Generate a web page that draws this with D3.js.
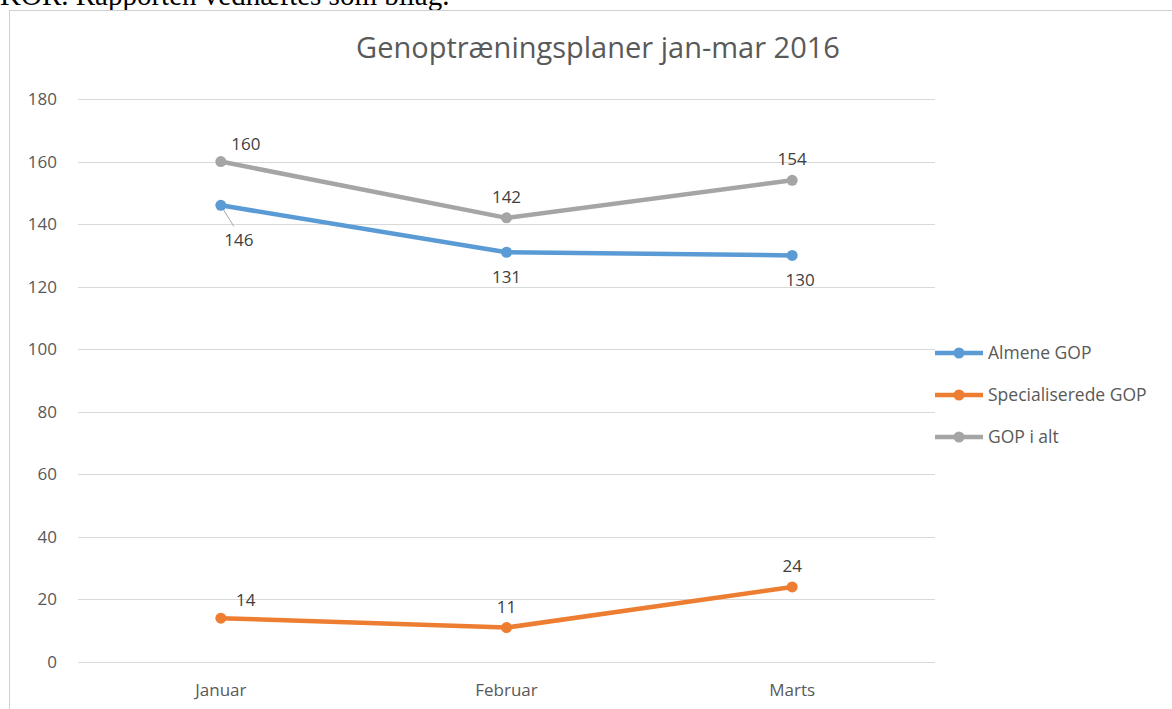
<!DOCTYPE html>
<html>
<head>
<meta charset="utf-8">
<script src="https://cdn.jsdelivr.net/npm/d3@7"></script>
<style>
  body { margin: 0; background: #fff; overflow: hidden; }
  svg { display: block; }
</style>
</head>
<body>
<svg id="chart" width="1172" height="709"></svg>
<script>
var months = ['Januar', 'Februar', 'Marts'];
var almene = [146, 131, 130];
var specialiserede = [14, 11, 24];
var iAlt = [160, 142, 154];
var yTicks = [0, 20, 40, 60, 80, 100, 120, 140, 160, 180];

var series = [
  { name: 'Almene GOP', values: almene, color: '#5b9bd5', labelPos: ['belowRight', 'below', 'below'] },
  { name: 'Specialiserede GOP', values: specialiserede, color: '#ed7d31', labelPos: ['aboveRight', 'above', 'above'] },
  { name: 'GOP i alt', values: iAlt, color: '#a5a5a5', labelPos: ['aboveRight', 'above', 'above'] }
];

var svg = d3.select('#chart');
var font = '"Open Sans", "Noto Sans", sans-serif';

// page text cut off above the chart
svg.append('text')
  .attr('x', 0).attr('y', 5)
  .style('font-family', '"Liberation Serif", "DejaVu Serif", serif')
  .style('font-size', '29px')
  .attr('fill', '#000')
  .text('KOR. Rapporten vedhæftes som bilag.');

// chart frame
svg.append('rect')
  .attr('x', 9.5).attr('y', 10.5)
  .attr('width', 1170).attr('height', 720)
  .attr('fill', '#fff')
  .attr('stroke', '#d0d0d0');

var margin = { left: 78, right: 935, top: 99, bottom: 662 };

var x = d3.scaleBand().domain(months).range([margin.left, margin.right]);
var y = d3.scaleLinear().domain([0, 180]).range([margin.bottom, margin.top]);

svg.append('text')
  .attr('x', 598).attr('y', 58)
  .attr('text-anchor', 'middle')
  .style('font-family', font)
  .style('font-size', '29px')
  .attr('fill', '#595959')
  .text('Genoptræningsplaner jan-mar 2016');

// gridlines
svg.append('g')
  .selectAll('line')
  .data(yTicks)
  .enter()
  .append('line')
  .attr('x1', margin.left).attr('x2', margin.right)
  .attr('y1', function(d) { return Math.round(y(d)) + 0.5; })
  .attr('y2', function(d) { return Math.round(y(d)) + 0.5; })
  .attr('stroke', '#d9d9d9')
  .attr('stroke-width', 1);

// y axis
var yAxis = svg.append('g')
  .attr('transform', 'translate(' + margin.left + ',0)')
  .call(d3.axisLeft(y).tickValues(yTicks).tickSize(0).tickPadding(21));
yAxis.select('.domain').remove();
yAxis.selectAll('text')
  .style('font-family', font)
  .style('font-size', '17px')
  .attr('fill', '#595959');

// x axis
var xAxis = svg.append('g')
  .attr('transform', 'translate(0,' + margin.bottom + ')')
  .call(d3.axisBottom(x).tickSize(0).tickPadding(22));
xAxis.select('.domain').remove();
xAxis.selectAll('text')
  .style('font-family', font)
  .style('font-size', '17px')
  .attr('fill', '#595959');

var line = d3.line()
  .x(function(d, i) { return x(months[i]) + x.bandwidth() / 2; })
  .y(function(d) { return y(d); });

series.forEach(function(s) {
  var g = svg.append('g');
  g.append('path')
    .datum(s.values)
    .attr('d', line)
    .attr('fill', 'none')
    .attr('stroke', s.color)
    .attr('stroke-width', 4.5)
    .attr('stroke-linejoin', 'round');
  g.selectAll('circle')
    .data(s.values)
    .enter()
    .append('circle')
    .attr('cx', function(d, i) { return x(months[i]) + x.bandwidth() / 2; })
    .attr('cy', function(d) { return y(d); })
    .attr('r', 5.5)
    .attr('fill', s.color);
});

// data labels
series.forEach(function(s) {
  s.values.forEach(function(v, i) {
    var cx = x(months[i]) + x.bandwidth() / 2;
    var cy = y(v);
    var pos = s.labelPos[i];
    var lx = cx, ly = cy - 15;
    if (pos === 'aboveRight') { lx = cx + 25; ly = cy - 12; }
    if (pos === 'below') { lx = cx + (i === 2 ? 8 : 0); ly = cy + 31; }
    if (pos === 'belowRight') {
      lx = cx + 18; ly = cy + 41;
      svg.append('line')
        .attr('x1', cx + 3).attr('y1', cy + 5)
        .attr('x2', cx + 13).attr('y2', cy + 21)
        .attr('stroke', '#a6a6a6').attr('stroke-width', 1);
    }
    svg.append('text')
      .attr('x', lx).attr('y', ly)
      .attr('text-anchor', 'middle')
      .style('font-family', font)
      .style('font-size', '17px')
      .attr('fill', '#404040')
      .text(v);
  });
});

// legend
var legend = svg.append('g')
  .selectAll('g')
  .data(series)
  .enter()
  .append('g')
  .attr('transform', function(d, i) { return 'translate(935,' + (353 + i * 42) + ')'; });
legend.append('line')
  .attr('x1', 0).attr('x2', 48)
  .attr('stroke', function(d) { return d.color; })
  .attr('stroke-width', 4.5);
legend.append('circle')
  .attr('cx', 24).attr('r', 5.5)
  .attr('fill', function(d) { return d.color; });
legend.append('text')
  .attr('x', 53).attr('y', 6)
  .style('font-family', font)
  .style('font-size', '17.5px')
  .attr('fill', '#595959')
  .text(function(d) { return d.name; });
</script>
</body>
</html>
